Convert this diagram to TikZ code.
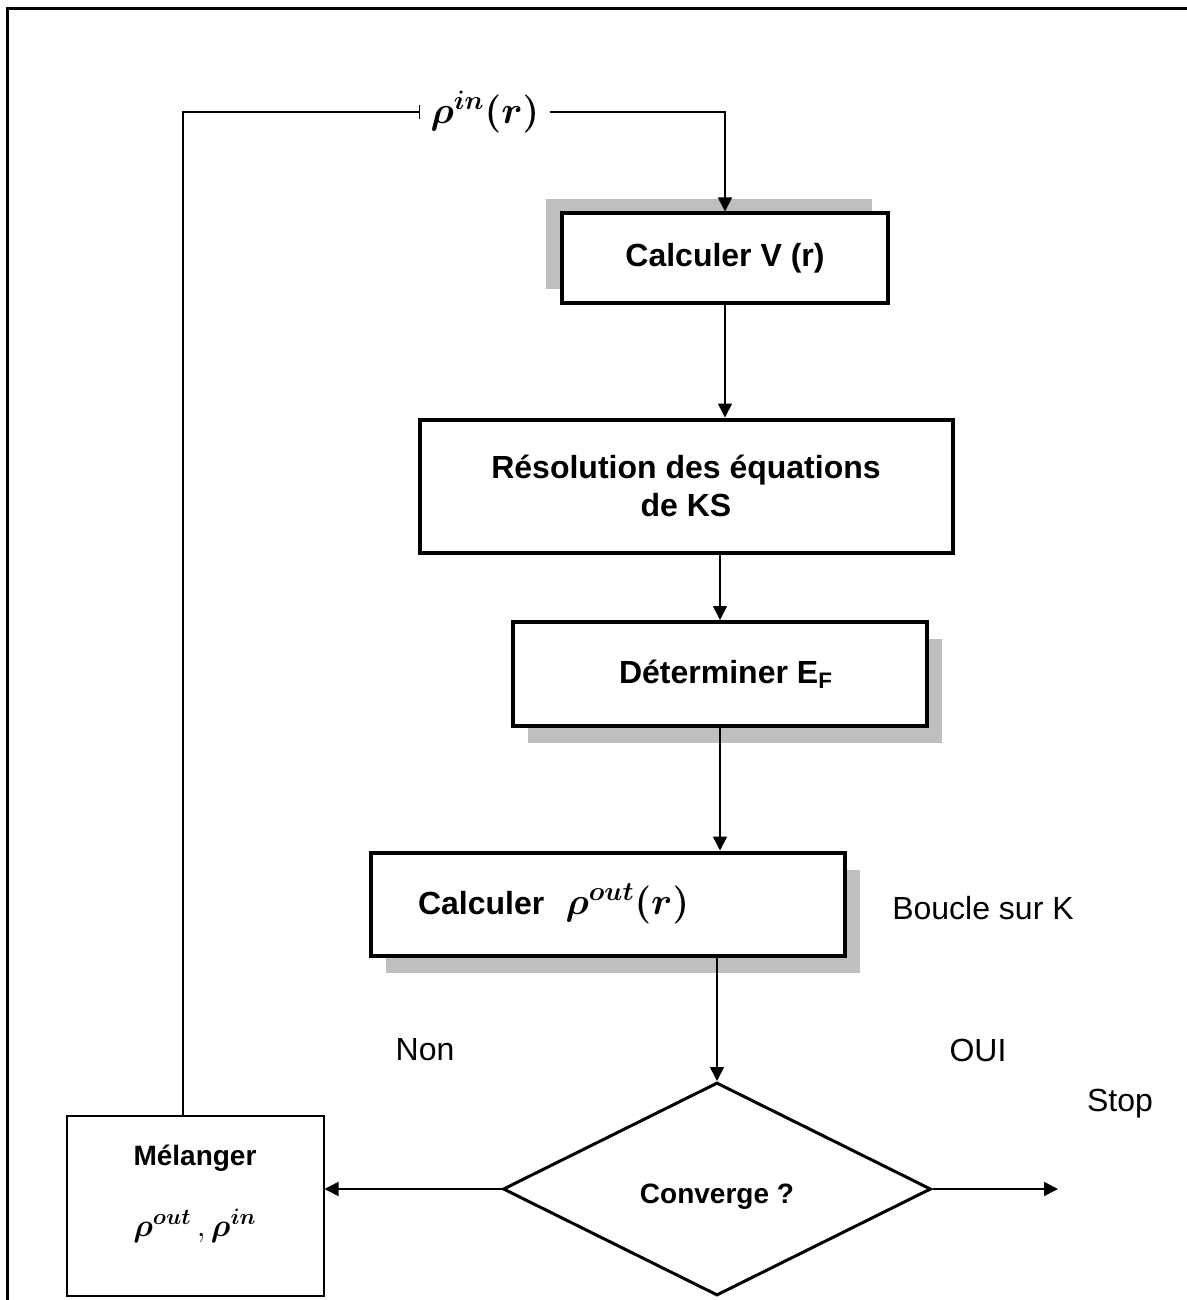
\RequirePackage{fix-cm}
\documentclass[tikz,border=0pt]{standalone}
\usepackage{fontspec}
\setmainfont{Liberation Sans}
\usepackage{amsmath}
\usepackage{bm}
\usetikzlibrary{positioning, arrows.meta, shapes.geometric, shadows}

\begin{document}
\begin{tikzpicture}[
    x=0.5pt, y=-0.5pt,
    procbox/.style={draw, line width=2pt, fill=white, inner sep=0pt, align=center, font=\fontsize{16}{19}\selectfont\bfseries},
    shade up/.style={drop shadow={shadow xshift=-8pt, shadow yshift=7pt, fill=black!25, opacity=1}},
    shade down/.style={drop shadow={shadow xshift=7.5pt, shadow yshift=-8.5pt, fill=black!25, opacity=1}},
    tag/.style={font=\fontsize{16}{19}\selectfont},
    link/.style={line width=0.8pt},
    >={Triangle[length=7pt,width=7pt]},
  ]
  \useasboundingbox (0,0) rectangle (1187,1300);
  \draw[line width=1.5pt] (1187,9) -| (7,1300);

  \node[procbox, shade up, minimum width=163pt, minimum height=44.5pt] (calcV) at (725,258) {Calculer V (r)};
  \node[procbox, minimum width=266.5pt, minimum height=66.5pt] (resol) at (686,486) {Résolution des équations\\de KS};
  \node[procbox, shade down, minimum width=207pt, minimum height=52pt] (determ) at (720,674) {\hspace*{6pt}Déterminer E\textsubscript{F}};
  \node[procbox, shade down, minimum width=237pt, minimum height=51.5pt, text width=190pt, align=left] (calcRho) at (608,904) {Calculer~ {\fontsize{19}{22}\selectfont$\bm{\rho^{out}(r)}$}};
  \node[tag] (loop) at (983,908) {Boucle sur K};

  % test de convergence
  \node[draw, diamond, line width=1.5pt, inner sep=0pt, minimum width=214pt, minimum height=106.5pt, font=\fontsize{14}{17}\selectfont\bfseries] (conv) at (717,1189) {\raisebox{-4pt}[\height][\depth]{Converge ?}};
  \node[draw, line width=1pt, minimum width=128.5pt, minimum height=90pt, font=\fontsize{14}{17}\selectfont\bfseries] (mel) at (195,1206)
    {\raisebox{6pt}[\height][\depth]{\begin{tabular}{@{}c@{}}Mélanger\\[17pt]{\fontsize{16}{19}\selectfont$\bm{\rho^{out}}\,,\bm{\rho^{in}}$}\end{tabular}}};

  \node[tag, inner sep=5pt] (rhoin) at (485,112) {\fontsize{19}{22}\selectfont$\bm{\rho^{in}(r)}$};
  \node[tag] (non) at (425,1050) {Non};
  \node[tag] (oui) at (978,1050) {OUI};
  \node[tag] (stop) at (1120,1104) {Stop};
  \coordinate (stopend) at (1058,1189);

  \draw[link, -{Bar[width=7pt]}] ([xshift=-6pt]mel.north) |- (rhoin.west);
  \draw[link, ->] (rhoin.east) -| (calcV.north);
  \draw[link, ->] (calcV.south) -- (calcV.south |- resol.north);
  \draw[link, ->] (determ.north |- resol.south) -- (determ.north);
  \draw[link, ->] (determ.south) -- (determ.south |- calcRho.north);
  \draw[link, ->] (calcRho.south -| conv.north) -- (conv.north);
  \draw[link, ->] (conv.west) -- (conv.west -| mel.east);
  \draw[link, ->] (conv.east) -- (stopend);
\end{tikzpicture}
\end{document}
